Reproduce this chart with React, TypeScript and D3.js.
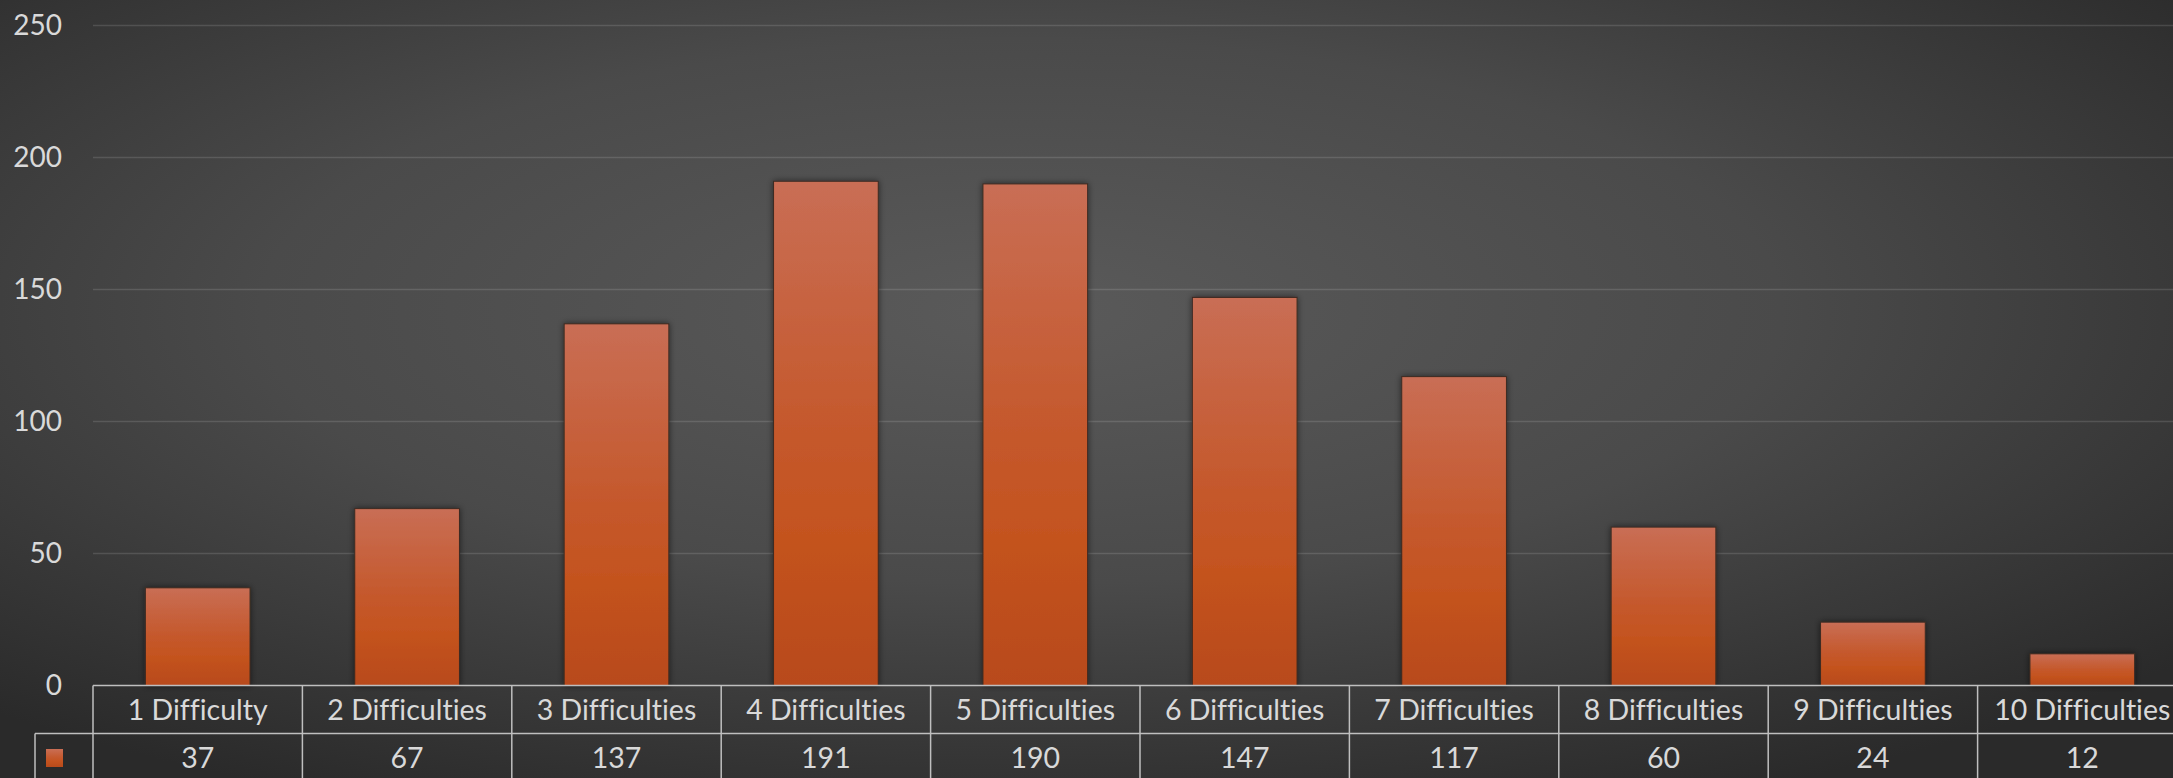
import React from "react";
import * as d3 from "d3";

const categories = [
  "1 Difficulty",
  "2 Difficulties",
  "3 Difficulties",
  "4 Difficulties",
  "5 Difficulties",
  "6 Difficulties",
  "7 Difficulties",
  "8 Difficulties",
  "9 Difficulties",
  "10 Difficulties",
];
const values = [37, 67, 137, 191, 190, 147, 117, 60, 24, 12];
const yTicks = [0, 50, 100, 150, 200, 250];

const W = 2173;
const H = 778;
const plotLeft = 93;
const plotRight = 93 + 2094;
const yTop = 25.5;
const yBottom = 685.5;
const rowDivider = 733.5;
const legendLeft = 35;
const FONT = "Lato, 'Open Sans', sans-serif";
const textColor = "#d9d9d9";
const lineColor = "#bfbfbf";

export default function App() {
  const x = d3
    .scaleBand<string>()
    .domain(categories)
    .range([plotLeft, plotRight])
    .paddingInner(0.5)
    .paddingOuter(0.25);
  const cell = d3
    .scaleBand<string>()
    .domain(categories)
    .range([plotLeft, plotRight])
    .padding(0);
  const y = d3.scaleLinear().domain([0, 250]).range([yBottom, yTop]);

  return (
    <svg
      width={W}
      height={H}
      style={{ position: "absolute", left: 0, top: 0, display: "block", fontVariantLigatures: "none" }}
      fontFamily={FONT}
    >
      <defs>
        <radialGradient id="bg" cx="0.47" cy="0.4" r="0.7">
          <stop offset="0" stopColor="#5a5a5a" />
          <stop offset="0.5" stopColor="#4a4a4a" />
          <stop offset="1" stopColor="#2a2a2a" />
        </radialGradient>
        <linearGradient id="bar" x1="0" y1="0" x2="0" y2="1">
          <stop offset="0" stopColor="#c96e55" />
          <stop offset="0.45" stopColor="#c55a2f" />
          <stop offset="0.7" stopColor="#c4531f" />
          <stop offset="1" stopColor="#b84a1b" />
        </linearGradient>
        <filter id="shadow" x="-20%" y="-20%" width="140%" height="140%">
          <feDropShadow dx="0" dy="0" stdDeviation="3" floodColor="#000" floodOpacity="0.55" />
        </filter>
      </defs>
      <rect x={0} y={0} width={W} height={H} fill="url(#bg)" />

      {yTicks.map((t) =>
        t === 0 ? null : (
          <line
            key={"g" + t}
            x1={plotLeft}
            x2={W}
            y1={y(t)}
            y2={y(t)}
            stroke="rgba(255,255,255,0.13)"
            strokeWidth={1.5}
          />
        )
      )}
      {yTicks.map((t) => (
        <text
          key={"t" + t}
          x={62}
          y={y(t) + 9.5}
          textAnchor="end"
          fontSize={28}
          fill={textColor}
        >
          {t}
        </text>
      ))}

      {values.map((v, i) => (
        <rect
          key={"b" + i}
          x={x(categories[i])!}
          y={y(v)}
          width={x.bandwidth()}
          height={yBottom - y(v)}
          fill="url(#bar)"
          stroke="#3b2a22"
          strokeWidth={1}
          filter="url(#shadow)"
        />
      ))}

      {/* data table */}
      <line x1={plotLeft} x2={W} y1={yBottom} y2={yBottom} stroke={lineColor} strokeWidth={1.5} />
      <line x1={legendLeft} x2={W} y1={rowDivider} y2={rowDivider} stroke={lineColor} strokeWidth={1.5} />
      <line x1={legendLeft} x2={legendLeft} y1={rowDivider} y2={H} stroke={lineColor} strokeWidth={1.5} />
      {categories.map((c) => (
        <line
          key={"v" + c}
          x1={cell(c)!}
          x2={cell(c)!}
          y1={yBottom}
          y2={H}
          stroke={lineColor}
          strokeWidth={1.5}
        />
      ))}
      {categories.map((c) => (
        <text
          key={"c" + c}
          x={cell(c)! + cell.bandwidth() / 2}
          y={720}
          textAnchor="middle"
          fontSize={28.5}
          fill={textColor}
        >
          {c}
        </text>
      ))}
      {values.map((v, i) => (
        <text
          key={"v" + i}
          x={cell(categories[i])! + cell.bandwidth() / 2}
          y={768}
          textAnchor="middle"
          fontSize={28.5}
          fill={textColor}
        >
          {v}
        </text>
      ))}
      <rect x={46} y={749} width={17} height={18} fill="url(#bar)" />
    </svg>
  );
}
